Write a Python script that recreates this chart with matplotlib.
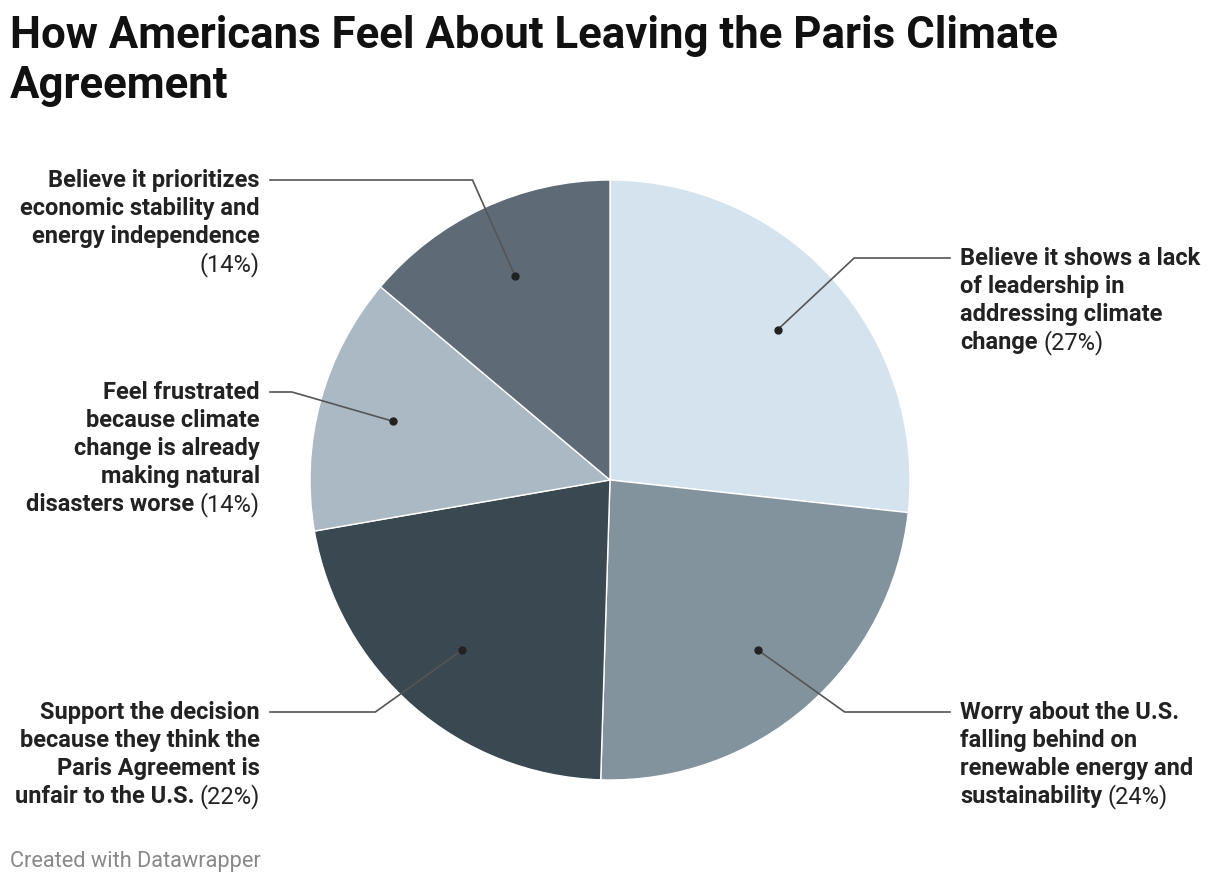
import numpy as np
import matplotlib
matplotlib.use("Agg")
import matplotlib.pyplot as plt

# ---- data ----
categories = [
    "Believe it shows a lack of leadership in addressing climate change",
    "Worry about the U.S. falling behind on renewable energy and sustainability",
    "Support the decision because they think the Paris Agreement is unfair to the U.S.",
    "Feel frustrated because climate change is already making natural disasters worse",
    "Believe it prioritizes economic stability and energy independence",
]
values = [27, 24, 22, 14, 14]
label_lines = [
    ["Believe it shows a lack", "of leadership in", "addressing climate", "change"],
    ["Worry about the U.S.", "falling behind on", "renewable energy and", "sustainability"],
    ["Support the decision", "because they think the", "Paris Agreement is", "unfair to the U.S."],
    ["Feel frustrated", "because climate", "change is already", "making natural", "disasters worse"],
    ["Believe it prioritizes", "economic stability and", "energy independence", ""],
]
colors = ["#d4e3ee", "#83939e", "#3a4852", "#aab9c4", "#5e6b77"]
title_lines = ["How Americans Feel About Leaving the Paris Climate", "Agreement"]
footer = "Created with Datawrapper"

# ---- layout ----
W, H = 1220, 886
fig = plt.figure(figsize=(W / 100, H / 100), dpi=100)
ax = fig.add_axes([0, 0, 1, 1])

FONT = "Roboto"
cx, cy, R = 610, H - 480, 300
wedges, _ = ax.pie(values, colors=colors, startangle=90, counterclock=False,
                   center=(cx, cy), radius=R, frame=True,
                   wedgeprops=dict(edgecolor="white", linewidth=1))
ax.set_xlim(0, W)
ax.set_ylim(0, H)
ax.set_aspect("equal")
ax.axis("off")

label_y_px = [258, 712, 712, 392, 180]
sides = [1, 1, -1, -1, -1]
line_h = 28.2
fs = 17.0
txt_col = "#222222"

for i, w in enumerate(wedges):
    mid = np.deg2rad((w.theta1 + w.theta2) / 2)
    dx, dy = cx + 0.75 * R * np.cos(mid), cy + 0.75 * R * np.sin(mid)
    ly = H - label_y_px[i]
    r2 = 1.1 * R
    ex = cx + sides[i] * np.sqrt(max(r2 ** 2 - (ly - cy) ** 2, 0))
    endx = 950 if sides[i] > 0 else 270
    ax.plot([dx, ex, endx], [dy, ly, ly], color="#555555", lw=1.2, zorder=5)
    ax.plot([dx], [dy], "o", color="#222222", ms=5, zorder=6)

    tx = 960 if sides[i] > 0 else 260
    ha = "left" if sides[i] > 0 else "right"
    lines = label_lines[i]
    pct = f"({values[i]}%)"
    for j, ln in enumerate(lines):
        y = ly - j * line_h
        last = j == len(lines) - 1
        if not last:
            ax.text(tx, y, ln, ha=ha, va="center", fontsize=fs, fontweight="bold",
                    family=FONT, color=txt_col)
        elif ln == "":
            ax.text(tx, y, pct, ha=ha, va="center", fontsize=fs,
                    family=FONT, color=txt_col)
        elif sides[i] > 0:
            t = ax.text(tx, y, ln, ha="left", va="center", fontsize=fs,
                        fontweight="bold", family=FONT, color=txt_col)
            ax.annotate(pct, xy=(1, 0.5), xycoords=t, xytext=(4, 0),
                        textcoords="offset points", ha="left", va="center",
                        fontsize=fs, family=FONT, color=txt_col)
        else:
            t = ax.text(tx, y, pct, ha="right", va="center", fontsize=fs,
                        family=FONT, color=txt_col)
            ax.annotate(ln, xy=(0, 0.5), xycoords=t, xytext=(-4, 0),
                        textcoords="offset points", ha="right", va="center",
                        fontsize=fs, fontweight="bold", family=FONT, color=txt_col)

for k, tl in enumerate(title_lines):
    fig.text(10 / W, 1 - (36 + 50 * k) / H, tl, ha="left", va="center",
             fontsize=31.5, fontweight="bold", family=FONT, color="#111111")
fig.text(10 / W, 1 - 862 / H, footer, ha="left", va="center",
         fontsize=15.7, family=FONT, color="#888888")

fig.savefig("out.png", dpi=100, facecolor="white")
